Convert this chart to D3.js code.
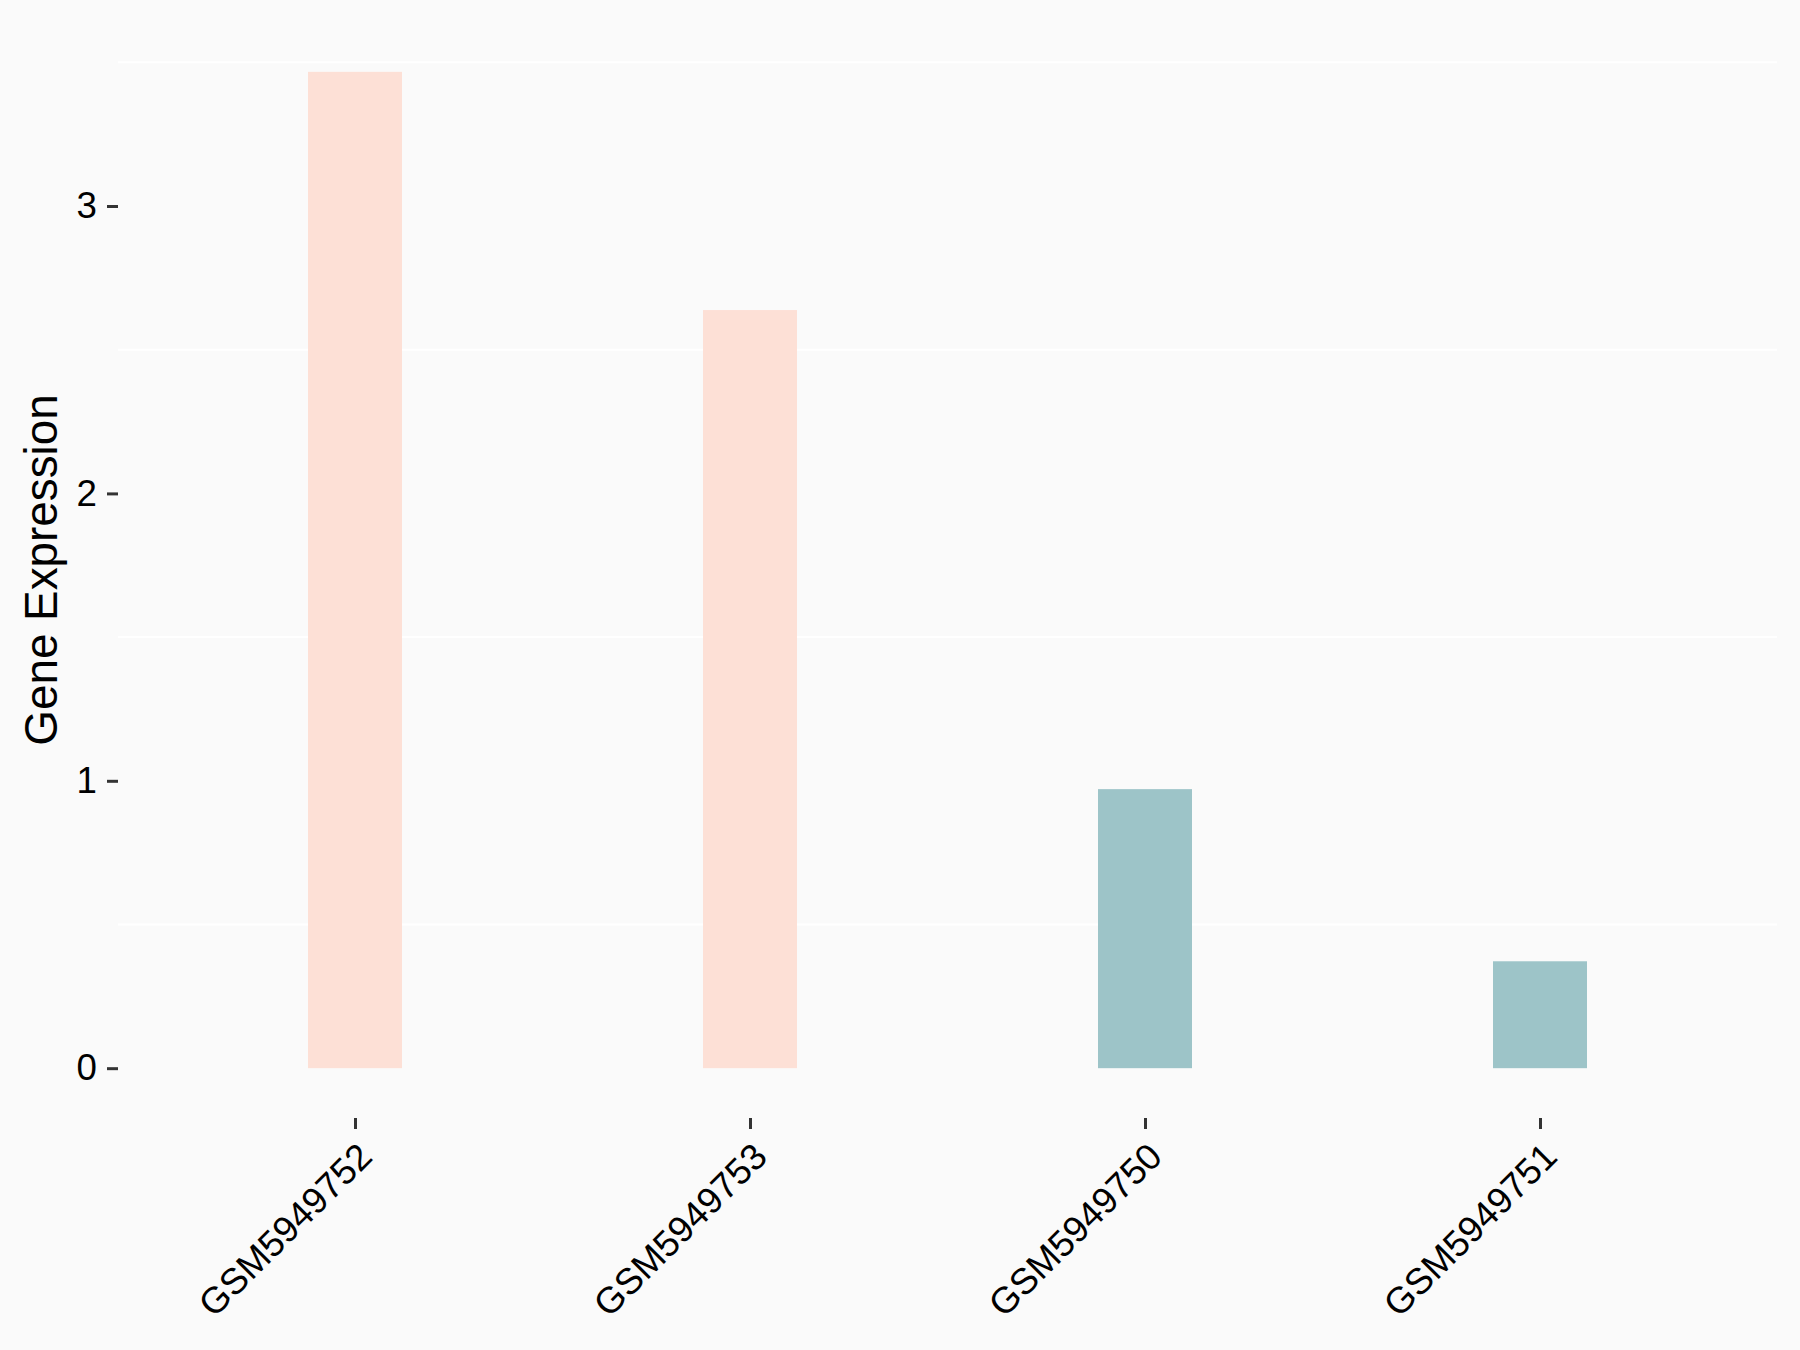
<!DOCTYPE html>
<html><head><meta charset="utf-8">
<script src="https://cdn.jsdelivr.net/npm/d3@7"></script>
<style>body{margin:0;background:#FAFAFA;} text{font-family:"Liberation Sans",Arial,sans-serif;}</style>
</head><body>
<svg id="chart" width="1800" height="1350"></svg>
<script>
const categories = ["GSM5949752","GSM5949753","GSM5949750","GSM5949751"];
const values = [3.467, 2.638, 0.971, 0.372];
const groups = ["high","high","low","low"];
const yTicks = [0,1,2,3];
const minorGrid = [0.5,1.5,2.5,3.5];
const colors = {high:"#FDE0D6", low:"#9DC4C8"};

const svg = d3.select("#chart");
svg.append("rect").attr("width",1800).attr("height",1350).attr("fill","#FAFAFA");

const panel = {left:118, right:1777, top:22, bottom:1118};
const maxV = d3.max(values), pad = maxV*0.05;
const y = d3.scaleLinear().domain([-pad, maxV+pad]).range([panel.bottom, panel.top]);
const step = (panel.right-panel.left)/(categories.length - 1 + 1.2);
const x = d3.scalePoint().domain(categories).range([panel.left+0.6*step, panel.right-0.6*step]);
const barW = 94;

// minor gridlines
svg.append("g").selectAll("line").data(minorGrid).join("line")
  .attr("x1",panel.left).attr("x2",panel.right)
  .attr("y1",d=>y(d)).attr("y2",d=>y(d))
  .attr("stroke","#FFFFFF").attr("stroke-width",2);

// bars
svg.append("g").selectAll("rect").data(values).join("rect")
  .attr("x",(d,i)=>x(categories[i])-barW/2)
  .attr("width",barW)
  .attr("y",d=>y(d))
  .attr("height",d=>y(0)-y(d))
  .attr("fill",(d,i)=>colors[groups[i]]);

// y axis
const yAxis = svg.append("g").attr("transform",`translate(${panel.left},0)`)
  .call(d3.axisLeft(y).tickValues(yTicks).tickFormat(d3.format("d")).tickSize(11).tickPadding(10));
yAxis.select(".domain").remove();
yAxis.selectAll(".tick line").attr("stroke","#333333").attr("stroke-width",3);
yAxis.selectAll(".tick text").attr("fill","#000").style("font-size","36.7px")
  .style("font-family","'Liberation Sans',Arial,sans-serif");

// x axis
const xAxis = svg.append("g").attr("transform",`translate(0,${panel.bottom})`)
  .call(d3.axisBottom(x).tickSize(11).tickPadding(0));
xAxis.select(".domain").remove();
xAxis.selectAll(".tick line").attr("stroke","#333333").attr("stroke-width",3);
xAxis.selectAll(".tick text")
  .attr("fill","#000").style("font-size","36.7px")
  .style("font-family","'Liberation Sans',Arial,sans-serif")
  .attr("text-anchor","end")
  .attr("y",0).attr("dy","0.72em")
  .attr("transform","translate(0,22) rotate(-45)");

// y title
svg.append("text")
  .attr("transform",`translate(57,${(panel.top+panel.bottom)/2}) rotate(-90)`)
  .attr("text-anchor","middle")
  .style("font-size","45.8px").attr("fill","#000")
  .text("Gene Expression");
</script>
</body></html>
